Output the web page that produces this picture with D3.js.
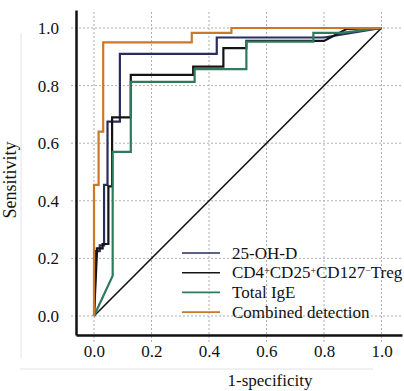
<!DOCTYPE html>
<html>
<head>
<meta charset="utf-8">
<script src="https://cdn.jsdelivr.net/npm/d3@7"></script>
<style>
  body { margin: 0; background: #fff; }
  svg text { font-family: "Liberation Serif", "DejaVu Serif", serif; fill: #111; }
</style>
</head>
<body>
<div id="chart"></div>
<script>
// ROC curves, [1-specificity, sensitivity]
const ohd = [[0,0],[0.007,0.21],[0.007,0.225],[0.02,0.225],[0.02,0.245],[0.035,0.245],[0.035,0.455],[0.047,0.455],[0.047,0.675],[0.09,0.675],[0.09,0.91],[0.427,0.91],[0.427,0.967],[0.8,0.967],[1,1]];
const treg = [[0,0],[0.01,0.215],[0.01,0.235],[0.03,0.235],[0.03,0.25],[0.05,0.25],[0.05,0.45],[0.063,0.45],[0.063,0.69],[0.128,0.69],[0.128,0.837],[0.345,0.837],[0.345,0.866],[0.45,0.866],[0.45,0.93],[0.53,0.93],[0.53,0.955],[0.8,0.955],[0.88,0.997],[1,1]];
const ige = [[0,0],[0.065,0.14],[0.065,0.57],[0.128,0.57],[0.128,0.813],[0.35,0.813],[0.35,0.857],[0.53,0.857],[0.53,0.953],[0.763,0.953],[0.763,0.983],[0.86,0.983],[1,1]];
const combined = [[0,0],[0,0.455],[0.016,0.455],[0.016,0.64],[0.032,0.64],[0.032,0.95],[0.34,0.95],[0.34,0.983],[0.478,0.983],[0.478,1],[1,1]];
const reference = [[0,0],[1,1]];
const ticks = [0, 0.2, 0.4, 0.6, 0.8, 1.0];

const series = [
    { name: '25-OH-D', data: ohd, color: '#2b2c5e' },
    { name: 'treg', data: treg, color: '#141414' },
    { name: 'Total IgE', data: ige, color: '#2f7a5c' },
    { name: 'Combined detection', data: combined, color: '#c9782c' }
];

const width = 404, height = 391;

const svg = d3.select('#chart').append('svg')
    .attr('width', width)
    .attr('height', height);

const x = d3.scaleLinear().domain([-0.0626, 1.0713]).range([76, 402]);
const y = d3.scaleLinear().domain([-0.066, 1.0625]).range([335, 10]);

// faint scan frame
svg.append('line').attr('x1', 21).attr('x2', 21).attr('y1', 33).attr('y2', 358)
    .attr('stroke', '#e2e2e2').attr('stroke-width', 1);
svg.append('line').attr('x1', 20).attr('x2', 373).attr('y1', 369).attr('y2', 369)
    .attr('stroke', '#e2e2e2').attr('stroke-width', 1);

// grid
svg.append('g')
    .selectAll('line')
    .data(ticks)
    .join('line')
    .attr('x1', 71).attr('x2', 402)
    .attr('y1', d => y(d)).attr('y2', d => y(d))
    .attr('stroke', '#b0b0b0').attr('stroke-width', 1).attr('stroke-dasharray', '2,2');

svg.append('g')
    .selectAll('line')
    .data(ticks)
    .join('line')
    .attr('x1', d => x(d)).attr('x2', d => x(d))
    .attr('y1', 12).attr('y2', 342)
    .attr('stroke', '#b0b0b0').attr('stroke-width', 1).attr('stroke-dasharray', '2,2');

// diagonal
const line = d3.line().x(d => x(d[0])).y(d => y(d[1]));

svg.append('path')
    .datum(reference)
    .attr('fill', 'none')
    .attr('stroke', '#111')
    .attr('stroke-width', 1.6)
    .attr('d', line);

series.forEach(s => {
    svg.append('path')
        .datum(s.data)
        .attr('fill', 'none')
        .attr('stroke', s.color)
        .attr('stroke-width', 2.2)
        .attr('stroke-linejoin', 'miter')
        .attr('d', line);
});

// axes
const fmt = d3.format('.1f');

const xAxis = svg.append('g')
    .attr('transform', 'translate(0,335)')
    .call(d3.axisBottom(x).tickValues(ticks).tickSize(0).tickPadding(10).tickFormat(fmt));

const yAxis = svg.append('g')
    .attr('transform', 'translate(76,0)')
    .call(d3.axisLeft(y).tickValues(ticks).tickSize(0).tickPadding(17).tickFormat(fmt));

[xAxis, yAxis].forEach(a => {
    a.select('.domain').attr('stroke', '#111').attr('stroke-width', 2.5);
    a.selectAll('text')
        .style('font-family', '"Liberation Serif", serif')
        .style('font-size', '17px')
        .attr('fill', '#111');
});

svg.append('text')
    .attr('x', 270)
    .attr('y', 386)
    .attr('text-anchor', 'middle')
    .style('font-size', '17px')
    .text('1-specificity');

svg.append('text')
    .attr('transform', 'translate(16,180) rotate(-90)')
    .attr('text-anchor', 'middle')
    .style('font-size', '18px')
    .text('Sensitivity');

// legend
const legend = svg.append('g').attr('transform', 'translate(182,253)');

series.forEach((s, i) => {
    const row = legend.append('g').attr('transform', `translate(0,${i * 19.7})`);
    row.append('line')
        .attr('x1', 0).attr('x2', 38)
        .attr('y1', 0).attr('y2', 0)
        .attr('stroke', s.color)
        .attr('stroke-width', 1.6);
    const t = row.append('text')
        .attr('x', 50)
        .attr('y', 5.5)
        .style('font-size', '17px');
    if (s.name === 'treg') {
        const parts = [['CD4', null], ['+', 'sup'], ['CD25', null], ['+', 'sup'], ['CD127', null], ['\u2212', 'sup'], ['Treg', null]];
        parts.forEach(p => {
            const ts = t.append('tspan').text(p[0]);
            if (p[1]) ts.attr('baseline-shift', '40%').style('font-size', '10px');
        });
    } else {
        t.text(s.name);
    }
});
</script>
</body>
</html>
